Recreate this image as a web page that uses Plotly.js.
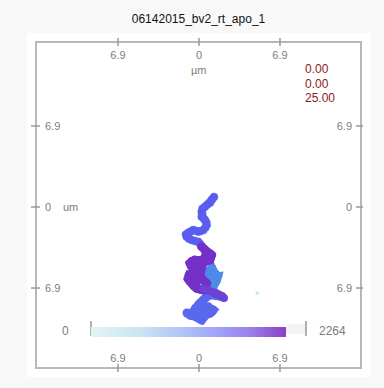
<!DOCTYPE html>
<html>
<head>
<meta charset="utf-8">
<script src="https://cdn.plot.ly/plotly-3.0.1.min.js"></script>
<style>html,body{margin:0;padding:0;background:#f8f8f8;}#chart{width:384px;height:388px;}</style>
</head>
<body>
<div id="chart"></div>
<script>
// ---- data (µm) ----
var tickVals = [-6.9, 0, 6.9];
var tickText = ['6.9', '0', '6.9'];
var infoLines = ['0.00', '0.00', '25.00'];
var frameMin = 0, frameMax = 2264, frameLast = 2054;

var topX = [1.28, 1.10, 0.94, 0.70, 0.51, 0.30, 0.23, 0.28, 0.23, 0.40, 0.51, 0.62, 0.66, 0.55, 0.37, 0.15, -0.06, -0.28, -0.49, -0.70, -0.91, -1.10, -1.05, -0.85, -0.62, -0.35, -0.06, 0.10, 0.23];
var topY = [0.85, 0.62, 0.37, 0.20, 0.03, -0.15, -0.40, -0.62, -0.83, -0.98, -1.11, -1.30, -1.53, -1.75, -1.96, -2.05, -2.10, -2.02, -1.96, -2.08, -2.19, -2.35, -2.53, -2.70, -2.81, -2.90, -2.96, -3.15, -3.38];

var purpleX = [0.23, 0.45, 0.66, 0.90, 1.08, 1.00, 0.94, 0.65, 0.37, 0.05, -0.34, -0.60, -0.77, -0.66, -0.49, -0.20, 0.09, 0.02, -0.06, -0.30, -0.49, -0.85, -0.94, -0.80, -0.62, -0.45, -0.20, 0.10, 0.37, 0.55, 0.66, 0.35, 0.09, -0.25, -0.30, 0.10, 0.51, 0.80, -0.26, -0.55];
var purpleY = [-3.38, -3.60, -3.81, -3.95, -4.09, -4.30, -4.51, -4.62, -4.66, -4.55, -4.51, -4.62, -4.80, -5.02, -5.22, -5.25, -5.22, -5.45, -5.65, -5.80, -5.94, -5.80, -6.10, -6.30, -6.50, -6.72, -6.93, -7.02, -7.07, -6.80, -6.50, -6.20, -6.13, -6.30, -6.60, -5.85, -4.26, -4.40, -4.68, -5.60];

var blueX = [0.66, 0.85, 1.08, 1.25, 1.36, 1.20, 1.11, 0.90, 0.77, 1.00, 1.35, 1.62, 1.51, 1.35, 1.22, 0.95, 1.40];
var blueY = [-6.50, -6.25, -6.07, -5.85, -5.65, -5.42, -5.20, -5.40, -5.79, -5.95, -5.85, -5.88, -6.22, -6.50, -6.79, -6.95, -6.40];

var stripeX = [0.34, 0.62, 0.94, 1.20, 1.45, 1.70, 1.96, 2.13];
var stripeY = [-6.90, -7.02, -7.16, -7.25, -7.33, -7.45, -7.58, -7.75];

var bottomX = [1.96, 1.45, 0.94, 0.70, 0.51, 0.37, 0.23, 0.08, -0.06, -0.30, -0.49, -0.77, -1.02, -0.60, -0.20, 0.02, 0.23, 0.40, 0.51, 0.72, 0.94, 1.10, 1.22, 0.79, 0.34, 0.05, 0.40, -0.30, 0.00];
var bottomY = [-7.65, -7.55, -7.50, -7.62, -7.78, -7.92, -8.07, -8.20, -8.35, -8.62, -8.92, -9.20, -9.03, -9.22, -9.34, -9.48, -9.63, -9.40, -9.20, -9.12, -9.05, -8.92, -8.77, -8.49, -8.60, -8.85, -8.95, -9.05, -9.15];

var strayX = [4.97];
var strayY = [-7.35];

// ---- style ----
var barScale = [[0,'#e2f5f5'],[0.25,'#cbe4f3'],[0.5,'#abc0f6'],[0.65,'#a0a2f8'],[0.82,'#9b7ee9'],[1,'#8a3fc8']];
var W = 384, H = 388, L = 36, R = 23, T = 42, B = 20;
var pw = W - L - R, ph = H - T - B;
function px2x(p){ return (p - L) / pw; }
function px2y(p){ return (H - B - p) / ph; }

function seg(x, y, color, w, op){
  return {x: x, y: y, type: 'scatter', mode: 'lines+markers', hoverinfo: 'skip', showlegend: false, opacity: op || 1,
    line: {color: color, width: w}, marker: {color: color, size: w + 1}};
}

var traces = [
  seg(topX, topY, '#c4eff2', 8.5, 0.8),
  seg(topX, topY, '#5b5cef', 7),
  seg(bottomX, bottomY, '#5a68f0', 8),
  seg(blueX, blueY, '#4d8ce6', 8),
  seg(purpleX, purpleY, '#7430c8', 8),
  seg(stripeX, stripeY, '#6d40d6', 7),
  {x: strayX, y: strayY, type: 'scatter', mode: 'markers', hoverinfo: 'skip', showlegend: false,
   marker: {color: '#c8eef2', size: 4}},
  {x: [0, 0], y: [0, 0], type: 'scatter', mode: 'markers', hoverinfo: 'skip', showlegend: false,
   marker: {size: 1, opacity: 0, color: [frameMin, frameLast], cmin: frameMin, cmax: frameLast, colorscale: barScale, showscale: true,
     colorbar: {orientation: 'h', x: px2x(91), xanchor: 'left', y: px2y(337), yanchor: 'bottom',
       len: 195, lenmode: 'pixels', thickness: 10, thicknessmode: 'pixels', xpad: 0, ypad: 0,
       outlinewidth: 0, showticklabels: false, ticks: '', bgcolor: 'rgba(0,0,0,0)'}}},
  {x: [null], y: [null], xaxis: 'x2', yaxis: 'y2', type: 'scatter', mode: 'markers', showlegend: false, hoverinfo: 'skip'}
];

var tickFont = {family: 'Liberation Sans, Arial, sans-serif', size: 11, color: '#7c7c7c'};
var axBase = {tickvals: tickVals, ticktext: tickText, ticks: '', ticklabelposition: 'inside', showgrid: false, zeroline: false,
  showline: false, tickfont: tickFont, fixedrange: true};

var shapes = [
  {type: 'rect', xref: 'paper', yref: 'paper', x0: px2x(27), x1: px2x(370), y0: px2y(377), y1: px2y(33),
   fillcolor: '#ffffff', line: {width: 0}, layer: 'below'},
  {type: 'rect', xref: 'paper', yref: 'paper', x0: 0, x1: 1, y0: 0, y1: 1, line: {color: '#b8b8b8', width: 2}, fillcolor: 'rgba(0,0,0,0)'},
  {type: 'rect', xref: 'paper', yref: 'paper', x0: px2x(286), x1: px2x(306), y0: px2y(334), y1: px2y(324),
   fillcolor: '#f3f3f3', line: {width: 0}},
  {type: 'line', xref: 'paper', yref: 'paper', x0: px2x(91), x1: px2x(91), y0: px2y(336), y1: px2y(321), line: {color: '#666', width: 1}},
  {type: 'line', xref: 'paper', yref: 'paper', x0: px2x(306), x1: px2x(306), y0: px2y(336), y1: px2y(321), line: {color: '#666', width: 1}}
];
tickVals.forEach(function(v){
  shapes.push({type: 'line', xref: 'x', yref: 'paper', x0: v, x1: v, y0: -4/ph, y1: 4/ph, line: {color: '#9a9a9a', width: 1.5}});
  shapes.push({type: 'line', xref: 'x', yref: 'paper', x0: v, x1: v, y0: 1 - 4/ph, y1: 1 + 4/ph, line: {color: '#9a9a9a', width: 1.5}});
  shapes.push({type: 'line', xref: 'paper', yref: 'y', x0: -5/pw, x1: 4/pw, y0: v, y1: v, line: {color: '#9a9a9a', width: 1.5}});
  shapes.push({type: 'line', xref: 'paper', yref: 'y', x0: 1 - 5/pw, x1: 1 + 2/pw, y0: v, y1: v, line: {color: '#9a9a9a', width: 1.5}});
});

var annFont = {family: 'Liberation Sans, Arial, sans-serif', size: 11, color: '#7c7c7c'};
var redFont = {family: 'Liberation Sans, Arial, sans-serif', size: 12, color: '#8b1a14'};
var annotations = [
  {xref: 'x', yref: 'paper', x: 0, xanchor: 'center', y: px2y(70), yanchor: 'middle', text: 'µm', showarrow: false, font: annFont},
  {xref: 'paper', yref: 'y', x: px2x(61), xanchor: 'left', y: 0, yanchor: 'middle', text: 'um', showarrow: false, font: annFont},
  {xref: 'paper', yref: 'paper', x: px2x(65), xanchor: 'center', y: px2y(331), yanchor: 'middle', text: String(frameMin), showarrow: false, font: {family: annFont.family, size: 12, color: '#7c7c7c'}},
  {xref: 'paper', yref: 'paper', x: px2x(332), xanchor: 'center', y: px2y(331), yanchor: 'middle', text: String(frameMax), showarrow: false, font: {family: annFont.family, size: 12, color: '#7c7c7c'}}
];
infoLines.forEach(function(t, i){
  annotations.push({xref: 'paper', yref: 'paper', x: px2x(303), xanchor: 'left', y: px2y(69 + i * 14.5), yanchor: 'middle', text: t, showarrow: false, font: redFont});
});

var layout = {
  width: W, height: H,
  margin: {l: L, r: R, t: T, b: B, pad: 0},
  paper_bgcolor: '#f8f8f8', plot_bgcolor: '#ffffff',
  title: {text: '06142015_bv2_rt_apo_1', font: {family: 'Liberation Sans, Arial, sans-serif', size: 12, color: '#111'},
    xref: 'paper', x: 0.5, xanchor: 'center', yref: 'container', y: 1 - 19/H, yanchor: 'middle'},
  xaxis: Object.assign({}, axBase, {range: [-13.88, 13.80], side: 'bottom', anchor: 'y', ticklabelstandoff: 1}),
  yaxis: Object.assign({}, axBase, {range: [-13.71, 14.05], side: 'left', anchor: 'x', ticklabelstandoff: 6}),
  xaxis2: Object.assign({}, axBase, {range: [-13.88, 13.80], side: 'top', overlaying: 'x', anchor: 'y2', ticklabelstandoff: 6}),
  yaxis2: Object.assign({}, axBase, {range: [-13.71, 14.05], side: 'right', overlaying: 'y', anchor: 'x2', ticklabelstandoff: 6}),
  shapes: shapes,
  annotations: annotations,
  showlegend: false
};

Plotly.newPlot('chart', traces, layout, {displayModeBar: false, staticPlot: true});
</script>
</body>
</html>
